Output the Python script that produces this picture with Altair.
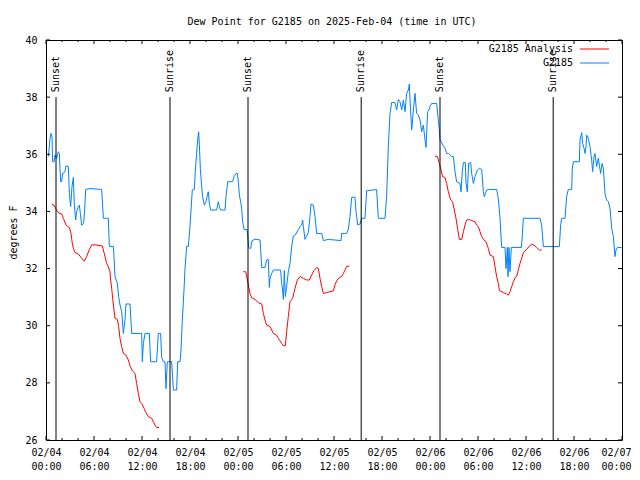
import json
import altair as alt
import pandas as pd

FONT = "DejaVu Sans Mono"
RED = "#ff0000"
BLUE = "#0080ff"

title_text = "Dew Point for G2185 on 2025-Feb-04 (time in UTC)"
y_title = "degrees F"
legend_labels = ["G2185 Analysis", "G2185"]

# x ticks (hours since 02/04 00:00 UTC)
x_major_hours = [0, 6, 12, 18, 24, 30, 36, 42, 48, 54, 60, 66, 72]
x_minor_hours = [2, 4, 8, 10, 14, 16, 20, 22, 26, 28, 32, 34, 38, 40, 44, 46, 50, 52, 56, 58, 62, 64, 68, 70]
x_dates = ["02/04", "02/04", "02/04", "02/04", "02/05", "02/05", "02/05", "02/05",
           "02/06", "02/06", "02/06", "02/06", "02/07"]
x_times = ["00:00", "06:00", "12:00", "18:00", "00:00", "06:00", "12:00", "18:00",
           "00:00", "06:00", "12:00", "18:00", "00:00"]
y_ticks = [26, 28, 30, 32, 34, 36, 38, 40]

# sunrise / sunset markers
sun_hours = [1.25, 15.5, 25.25, 39.4, 49.25, 63.4]
sun_labels = ["Sunset", "Sunrise", "Sunset", "Sunrise", "Sunset", "Sunrise"]
sun_bottom = 26
sun_top = 38

# G2185 observations
blue_hours = [0.29, 0.42, 0.5, 0.625, 0.75, 0.83, 1.0, 1.125, 1.33, 1.54, 1.67, 1.75, 1.83, 1.96,
              2.08, 2.375, 2.5, 2.79, 2.92, 3.08, 3.25, 3.42, 3.54, 3.71, 3.83, 4.04, 4.17, 4.29,
              4.46, 4.71, 4.875, 4.96, 5.5, 6.96, 7.17, 7.79, 7.92, 8.42, 8.5, 8.625, 8.92, 9.08,
              9.25, 9.46, 9.67, 9.875, 10.0, 10.5, 10.71, 11.96, 12.04, 12.17, 12.375, 12.92, 13.08,
              13.83, 14.04, 14.33, 14.46, 14.67, 14.875, 15.0, 15.17, 15.71, 15.92, 16.33, 16.46,
              16.75, 16.875, 17.04, 17.25, 17.375, 17.58, 17.79, 18.0, 18.125, 18.29, 18.54, 18.67,
              18.83, 18.96, 19.08, 19.17, 19.29, 19.46, 19.58, 19.79, 20.0, 20.17, 20.29, 20.42,
              20.58, 21.33, 21.54, 21.67, 21.83, 22.375, 22.5, 22.71, 23.33, 23.5, 23.75, 23.92,
              24.04, 24.17, 24.33, 24.46, 24.58, 24.75, 25.12, 25.21, 25.33, 25.42, 25.6, 25.73,
              26.125, 26.75, 26.875, 26.96, 27.375, 27.58, 27.79, 27.875, 27.92, 28.0, 28.21, 28.42,
              29.33, 29.46, 29.58, 29.67, 29.79, 29.92, 30.08, 30.29, 30.5, 30.71, 30.92, 31.25,
              31.54, 31.75, 31.96, 32.08, 32.17, 32.375, 32.58, 32.79, 33.0, 33.125, 33.42, 33.625,
              33.83, 34.46, 34.67, 35.29, 36.875, 36.96, 37.58, 37.79, 38.0, 38.21, 38.625, 38.75,
              38.96, 39.25, 39.46, 39.875, 40.08, 41.33, 41.54, 42.375, 42.58, 42.79, 43.0, 43.21,
              43.625, 43.83, 44.04, 44.25, 44.46, 44.67, 44.875, 45.08, 45.29, 45.42, 45.5, 45.71,
              45.92, 46.125, 46.33, 46.54, 46.75, 46.96, 47.17, 47.375, 47.5, 47.71, 47.875, 48.0,
              48.21, 48.83, 49.04, 49.17, 49.25, 49.67, 49.875, 50.08, 50.29, 50.5, 50.71, 50.92,
              51.125, 51.33, 51.75, 51.875, 52.04, 52.17, 52.42, 52.5, 52.67, 52.83, 53.08, 53.21,
              53.42, 53.625, 53.92, 54.17, 54.46, 54.67, 54.79, 55.08, 55.29, 56.33, 56.54, 56.75,
              56.96, 57.375, 57.5, 57.67, 57.75, 57.875, 58.0, 58.17, 59.42, 59.5, 59.67, 61.75,
              61.96, 62.17, 64.17, 64.33, 64.46, 64.875, 65.08, 65.29, 65.71, 65.79, 65.92, 66.67,
              66.75, 66.96, 67.08, 67.25, 67.375, 67.5, 67.58, 67.79, 68.0, 68.21, 68.33, 68.5,
              68.625, 68.83, 69.04, 69.17, 69.33, 69.5, 69.67, 69.875, 70.08, 70.29, 70.5, 70.625,
              70.71, 70.92, 71.125, 71.25, 71.42, 71.96]
blue_dewpt = [35.92, 36.27, 36.56, 36.73, 36.62, 35.74, 35.74, 35.97, 35.86, 36.09, 36.03, 35.51, 35.04, 35.04,
              35.33, 35.39, 35.59, 35.57, 34.63, 34.17, 34.87, 35.19, 34.22, 33.7, 33.99, 34.17, 34.22, 33.93,
              33.52, 33.58, 34.28, 34.77, 34.8, 34.77, 33.76, 33.76, 32.77, 32.77, 32.42, 31.72, 31.48, 31.02,
              30.73, 30.49, 29.73, 30.2, 30.76, 30.76, 29.73, 29.73, 28.74, 29.38, 29.73, 29.73, 28.74,
              28.74, 29.73, 29.73, 28.9, 28.74, 28.74, 27.8, 28.74, 28.74, 27.75, 27.75, 28.74,
              28.74, 29.15, 30.2, 31.25, 32.01, 32.77, 32.77, 33.47, 34.05, 34.75, 34.77, 35.45,
              36.03, 36.5, 36.79, 36.33, 35.51, 34.87, 34.52, 34.22, 34.34, 34.57, 34.69, 34.28,
              34.05, 34.05, 34.34, 34.17, 34.05, 34.05, 34.52, 35.04, 35.04, 35.22, 35.33, 35.33,
              35.04, 34.57, 34.34, 34.11, 33.64, 33.37, 33.37, 33.17, 32.75, 32.71, 32.71, 32.97,
              33.03, 33.0, 32.48, 32.04, 32.04, 32.3, 32.32, 31.66, 31.34, 31.66, 31.83, 31.95,
              31.95, 31.48, 31.25, 30.92, 31.93, 31.02, 31.37, 31.89, 32.18, 32.77, 33.14, 33.21,
              33.37, 33.47, 33.53, 33.7, 33.47, 33.02, 33.14, 33.26, 33.82, 34.26, 34.22, 33.82,
              33.23, 33.23, 32.98, 33.02, 32.98, 33.23, 33.23, 33.37, 33.82, 34.49, 34.5, 34.0,
              33.53, 33.56, 33.76, 33.76, 34.72, 34.77, 33.76, 33.76, 34.52, 36.27, 37.43, 37.81,
              37.81, 37.55, 37.92, 37.84, 37.55, 37.9, 37.49, 38.13, 38.25, 38.46, 37.9, 36.85,
              37.55, 38.13, 37.43, 37.38, 37.2, 36.79, 37.02, 36.5, 36.24, 37.49, 37.55, 37.67,
              37.78, 37.78, 37.2, 36.85, 36.5, 36.3, 36.21, 36.03, 36.03, 35.97, 35.92, 35.92,
              35.39, 35.04, 34.98, 34.69, 35.39, 35.71, 35.71, 34.98, 34.69, 35.68, 35.71, 35.33,
              34.98, 35.22, 35.45, 35.51, 35.47, 34.69, 34.52, 34.75, 34.77, 34.77, 34.46, 33.76,
              32.74, 32.74, 32.0, 32.74, 31.72, 32.74, 31.89, 32.74, 32.74, 33.0, 33.76, 33.76,
              33.52, 32.77, 32.77, 33.52, 33.76, 33.76, 34.52, 34.77, 34.77, 35.51, 35.74, 35.74,
              36.5, 36.76, 36.38, 36.21, 36.03, 36.27, 36.67, 36.56, 36.27, 35.8, 35.39, 35.92,
              36.03, 35.57, 35.86, 35.62, 35.33, 35.68, 35.51, 34.63, 34.4, 34.34, 34.11, 33.7,
              33.41, 33.12, 32.42, 32.65, 32.74, 32.74]

# G2185 Analysis (three separate runs)
red_hours_1 = [0.71, 1.0, 1.25, 1.54, 1.96, 2.17, 2.5, 2.71, 2.92, 3.125, 3.29, 3.42, 3.625, 4.04,
               4.46, 4.79, 5.08, 5.42, 5.71, 6.125, 7.04, 7.17, 7.375, 7.58, 7.79, 8.0, 8.08, 8.21,
               8.33, 8.5, 8.625, 8.92, 9.08, 9.25, 9.46, 9.67, 10.0, 10.29, 10.5, 10.83, 11.125,
               11.33, 11.54, 11.75, 11.96, 12.25, 12.5, 12.79, 13.21, 13.42, 13.625, 13.83, 14.125]
red_dewpt_1 = [34.25, 34.22, 34.08, 33.96, 33.91, 33.76, 33.52, 33.47, 33.44, 33.23, 32.88, 32.71, 32.56, 32.51,
               32.36, 32.26, 32.42, 32.67, 32.83, 32.83, 32.79, 32.65, 32.42, 32.18, 32.07, 31.89, 31.6, 31.31,
               30.96, 30.55, 30.26, 30.22, 29.97, 29.56, 29.27, 29.03, 28.97, 28.8, 28.59, 28.41, 28.33,
               27.98, 27.63, 27.34, 27.28, 27.11, 26.96, 26.82, 26.76, 26.64, 26.52, 26.44, 26.44]
red_hours_2 = [24.67, 24.96, 25.08, 25.29, 25.5, 25.71, 26.125, 26.54, 26.96, 27.17, 27.375, 27.58,
               28.0, 28.21, 28.42, 28.83, 29.04, 29.46, 29.67, 29.92, 30.08, 30.29, 30.5, 30.83,
               31.125, 31.42, 31.75, 32.17, 32.58, 32.92, 33.21, 33.5, 33.83, 34.04, 34.25, 34.46,
               34.67, 35.08, 35.5, 35.92, 36.125, 36.33, 36.67, 36.96, 37.17, 37.375, 37.58, 37.92]
red_dewpt_2 = [31.89, 31.89, 31.74, 31.43, 31.13, 30.98, 30.92, 30.81, 30.76, 30.43, 30.2, 30.02,
               29.97, 29.85, 29.73, 29.67, 29.56, 29.38, 29.3, 29.3, 29.79, 30.32, 30.84, 30.96,
               31.31, 31.6, 31.72, 31.66, 31.6, 31.6, 31.78, 31.93, 32.04, 32.01, 31.66, 31.37,
               31.13, 31.16, 31.19, 31.22, 31.43, 31.57, 31.69, 31.72, 31.83, 31.95, 32.07, 32.09]
red_hours_3 = [48.625, 48.92, 49.17, 49.375, 49.58, 49.875, 50.08, 50.29, 50.58, 50.83, 51.04, 51.25,
               51.46, 51.67, 51.96, 52.17, 52.375, 52.58, 52.79, 53.21, 53.625, 53.83, 54.04, 54.25,
               54.46, 54.67, 55.0, 55.29, 55.5, 55.92, 56.125, 56.33, 56.54, 56.67, 57.17, 57.58,
               57.79, 58.0, 58.21, 58.42, 58.625, 58.83, 59.04, 59.25, 59.46, 59.67, 60.08, 60.42,
               60.71, 61.0, 61.33, 61.67, 61.96]
red_dewpt_3 = [35.94, 35.92, 35.68, 35.45, 35.22, 35.18, 34.98, 34.69, 34.4, 34.34, 34.05, 33.76,
               33.37, 33.02, 33.02, 33.29, 33.52, 33.7, 33.72, 33.68, 33.64, 33.52, 33.47, 33.29,
               33.12, 33.02, 32.94, 32.71, 32.47, 32.42, 32.07, 31.72, 31.48, 31.23, 31.16, 31.11,
               31.07, 31.19, 31.37, 31.54, 31.68, 31.72, 31.95, 32.18, 32.36, 32.56, 32.67, 32.79,
               32.85, 32.82, 32.74, 32.65, 32.65]

# ---------------- data frames ----------------
blue_df = pd.DataFrame({"h": blue_hours, "v": blue_dewpt})
red_df = pd.concat([
    pd.DataFrame({"h": red_hours_1, "v": red_dewpt_1, "seg": 1}),
    pd.DataFrame({"h": red_hours_2, "v": red_dewpt_2, "seg": 2}),
    pd.DataFrame({"h": red_hours_3, "v": red_dewpt_3, "seg": 3}),
], ignore_index=True)
sun_df = pd.DataFrame({"h": sun_hours, "label": sun_labels,
                       "v": [sun_bottom] * len(sun_hours), "v2": [sun_top] * len(sun_hours)})
xmaj_df = pd.DataFrame({"h": x_major_hours})
xmin_df = pd.DataFrame({"h": x_minor_hours})
ytick_df = pd.DataFrame({"v": y_ticks})

W, H = 576, 400

label_expr = "[{d}[round(datum.value/6)], {t}[round(datum.value/6)]]".format(
    d=json.dumps(x_dates), t=json.dumps(x_times))

x_axis = alt.Axis(values=x_major_hours, labelExpr=label_expr, ticks=False, domain=False, grid=False,
                  labelFont=FONT, labelFontSize=10, labelColor="black", labelPadding=7,
                  labelLineHeight=14, labelBaseline="top", labelAngle=0, labelFlush=False,
                  labelOverlap=False, title=None,
                  labelOffset=alt.condition("datum.value >= 72", alt.value(-6), alt.value(0)))
y_axis = alt.Axis(values=y_ticks, format="d", ticks=False, domain=False, grid=False,
                  labelFont=FONT, labelFontSize=10, labelColor="black", labelPadding=9,
                  title=y_title, titleFont=FONT, titleFontSize=10, titleFontWeight="normal",
                  titleColor="black", titleAngle=270, titleX=-28, titleY=192,
                  titleAlign="center", titleBaseline="bottom")
x_scale = alt.Scale(domain=[0, 72], nice=False, zero=False)
y_scale = alt.Scale(domain=[26, 40], nice=False, zero=False)


def X(f):
    return alt.X(f"{f}:Q", scale=x_scale, axis=x_axis)


def Y(f):
    return alt.Y(f"{f}:Q", scale=y_scale, axis=y_axis)


red_line = alt.Chart(red_df).mark_line(color=RED, strokeWidth=1).encode(
    x=X("h"), y=Y("v"), detail="seg:N", order="h:Q")
blue_line = alt.Chart(blue_df).mark_line(color=BLUE, strokeWidth=1).encode(
    x=X("h"), y=Y("v"), order="h:Q")

sun_rules = alt.Chart(sun_df).mark_rule(color="black", strokeWidth=1).encode(
    x=X("h"), y=Y("v"), y2="v2:Q")
sun_text = alt.Chart(sun_df).mark_text(angle=270, align="left", baseline="middle", dx=5,
                                       font=FONT, fontSize=10, color="black").encode(
    x=X("h"), y=Y("v2"), text="label:N")

bot_major = alt.Chart(xmaj_df).mark_rule(color="black").encode(
    x=X("h"), y=alt.value(H), y2=alt.value(H - 4))
top_major = alt.Chart(xmaj_df).mark_rule(color="black").encode(
    x=X("h"), y=alt.value(0), y2=alt.value(4))
bot_minor = alt.Chart(xmin_df).mark_rule(color="black").encode(
    x=X("h"), y=alt.value(H), y2=alt.value(H - 2))
top_minor = alt.Chart(xmin_df).mark_rule(color="black").encode(
    x=X("h"), y=alt.value(0), y2=alt.value(2))
left_ticks = alt.Chart(ytick_df).mark_rule(color="black").encode(
    y=Y("v"), x=alt.value(0), x2=alt.value(4))
right_ticks = alt.Chart(ytick_df).mark_rule(color="black").encode(
    y=Y("v"), x=alt.value(W), x2=alt.value(W - 4))

leg = []
for i, (lab, col) in enumerate(zip(legend_labels, [RED, BLUE])):
    d = pd.DataFrame({"label": [lab]})
    ypix = 9 + i * 14
    leg.append(alt.Chart(d).mark_text(align="right", baseline="middle", font=FONT, fontSize=10,
                                      color="black").encode(
        x=alt.value(527), y=alt.value(ypix), text="label:N"))
    leg.append(alt.Chart(d).mark_rule(color=col, strokeWidth=1).encode(
        x=alt.value(534), x2=alt.value(563), y=alt.value(ypix)))

chart = alt.layer(
    red_line, blue_line, sun_rules, sun_text,
    bot_major, top_major, bot_minor, top_minor, left_ticks, right_ticks, *leg
).properties(
    width=W, height=H,
    title=alt.TitleParams(text=title_text, font=FONT, fontSize=10, fontWeight="normal",
                          color="black", anchor="middle", frame="group", offset=8, dx=-2),
    autosize=alt.AutoSizeParams(type="none"),
    padding={"left": 38, "top": 32, "right": 10, "bottom": 30},
    background="white",
).configure_view(stroke="black", strokeWidth=1)

chart.save("out.html", embed_options={"renderer": "svg", "actions": False})
